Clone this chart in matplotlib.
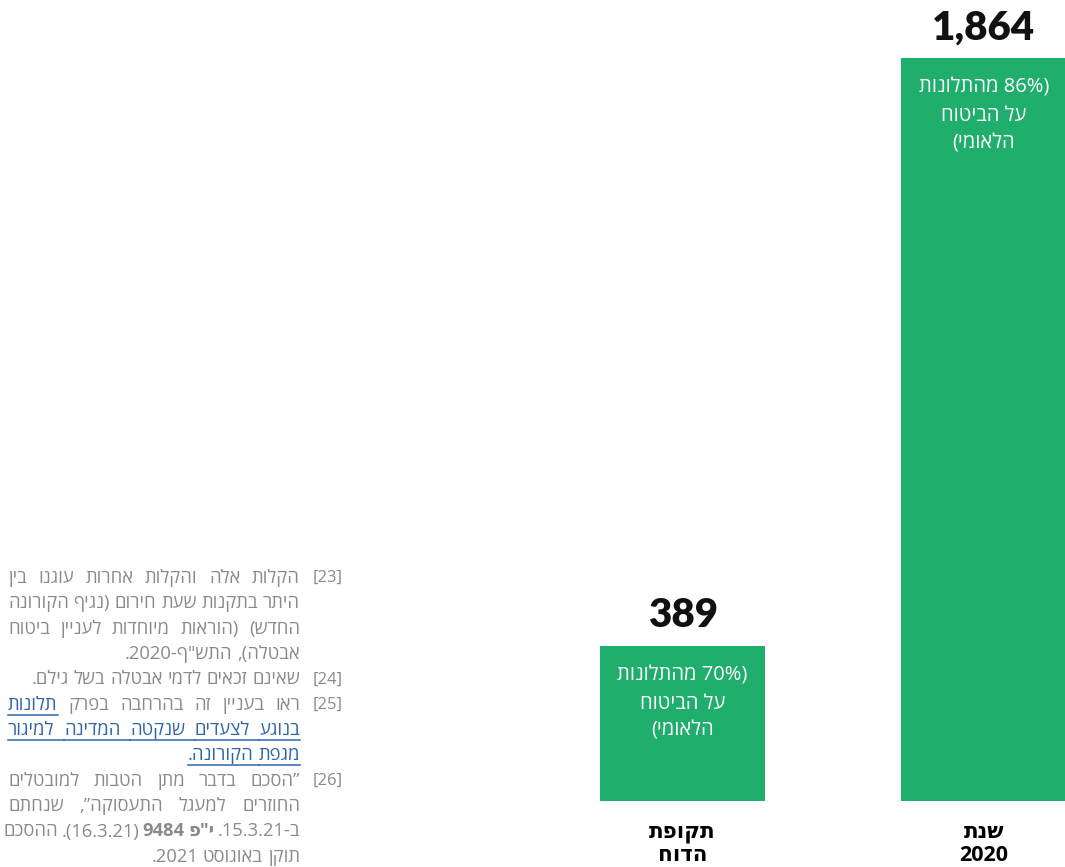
import re
import matplotlib
matplotlib.use("Agg")
import matplotlib.pyplot as plt
from matplotlib.lines import Line2D

# Complaints data
periods = ["תקופת\nהדוח", "שנת\n2020"]
complaints = [389, 1864]
share_of_nii = [70, 86]
value_labels = ["389", "1,864"]

# Footnotes: marker and wrapped lines; each line is a list of (text, style) segments
fn_markers = ["[23]", "[24]", "[25]", "[26]"]
fn_lines = [
    [[("הקלות אלה והקלות אחרות עוגנו בין", "n")],
     [("היתר בתקנות שעת חירום (נגיף הקורונה", "n")],
     [("החדש) (הוראות מיוחדות לעניין ביטוח", "n")],
     [("אבטלה), התש\"ף-2020.", "n")]],
    [[("שאינם זכאים לדמי אבטלה בשל גילם.", "n")]],
    [[("ראו בעניין זה בהרחבה בפרק", "n"), ("תלונות", "link")],
     [("בנוגע לצעדים שנקטה המדינה למיגור", "link")],
     [("מגפת הקורונה.", "link")]],
    [[("\u201dהסכם בדבר מתן הטבות למובטלים", "n")],
     [("החוזרים למעגל התעסוקה\u201d, שנחתם", "n")],
     [("ב-15.3.21.", "n"), ("י\"פ 9484", "b"), ("(16.3.21). ההסכם", "n")],
     [("תוקן באוגוסט 2021.", "n")]],
]

GREEN = "#1fae6c"
GREY = "#8a8a8a"
LINK = "#2e64ad"
plt.rcParams["font.family"] = ["Open Sans", "DejaVu Sans"]

MIRROR = str.maketrans("()[]", ")(][")


def rtl(line):
    # crude visual ordering for right-to-left text, keeping numbers intact
    units = re.findall(r"\d+(?:[.,]\d+)*%?|.", line)
    return "".join(u if u[0].isdigit() else u.translate(MIRROR) for u in reversed(units))


W, H = 1065, 867
fig = plt.figure(figsize=(W / 100, H / 100), dpi=100)


def px(x, y):
    return x / W, 1 - y / H


ax = fig.add_axes([532 / W, (H - 801) / H, (W - 532) / W, 743 / H])
x = list(range(len(periods)))
ax.bar(x, complaints, width=0.55, color=GREEN)
ax.set_xlim(-0.5, 1.27)
ax.set_ylim(0, max(complaints))
for s in ax.spines.values():
    s.set_visible(False)
ax.set_yticks([])
ax.set_xticks(x)
ax.set_xticklabels(["\n".join(rtl(l) for l in p.split("\n")) for p in periods],
                   fontsize=15.5, fontweight="bold", va="top")
for lbl in ax.get_xticklabels():
    lbl.set_linespacing(1.15)
ax.tick_params(axis="x", length=0, pad=15)

for i, (v, lab, pct) in enumerate(zip(complaints, value_labels, share_of_nii)):
    ax.annotate(lab, (i, v), xytext=(0, 30), textcoords="offset pixels",
                ha="center", va="center", fontsize=29, fontweight="heavy",
                family=["Lato", "DejaVu Sans"], color="#111111", annotation_clip=False)
    inner = ["(%d%% מהתלונות" % pct, "על הביטוח", "הלאומי)"]
    for k, line in enumerate(inner):
        ax.annotate(rtl(line), (i, v), xytext=(0, -30 - 27.5 * k), textcoords="offset pixels",
                    ha="center", va="center", fontsize=14.5, color="white")

# Footnotes column, right aligned at x=300 and justified except for last lines
FS = 13.2
RIGHT, LEFT = 300, 8
line_h = 25.35
fig.canvas.draw()
r = fig.canvas.get_renderer()
row = 0
for marker, lines in zip(fn_markers, fn_lines):
    fig.text(*px(343, 578 + row * line_h), marker, ha="right", va="center",
             fontsize=12, color=GREY)
    for li, segs in enumerate(lines):
        y = 578 + row * line_h
        words = []
        for text, style in segs:
            for w in text.split(" "):
                kw = dict(fontsize=FS, color=LINK if style == "link" else GREY,
                          fontweight="bold" if style == "b" else "normal")
                t = fig.text(*px(RIGHT, y), rtl(w), ha="right", va="center", **kw)
                words.append((t, style))
        widths = [t.get_window_extent(r).width for t, _ in words]
        last = li == len(lines) - 1
        if last or len(words) < 2:
            gap = 5.0
        else:
            gap = max(3.5, (RIGHT - LEFT - sum(widths)) / (len(words) - 1))
        xr = RIGHT
        prev = None
        for (t, style), wd in zip(words, widths):
            t.set_x(xr / W)
            if style == "link":
                yy = 1 - (y + 10) / H
                x0 = xr - wd
                # underline continues across the space to the previous link word
                x1 = xr + gap if prev == "link" else xr
                fig.add_artist(Line2D([x0 / W, x1 / W], [yy, yy], color=LINK, lw=1.1))
            prev = style
            xr -= wd + gap
        row += 1

fig.savefig("out.png", dpi=100, facecolor="white")
